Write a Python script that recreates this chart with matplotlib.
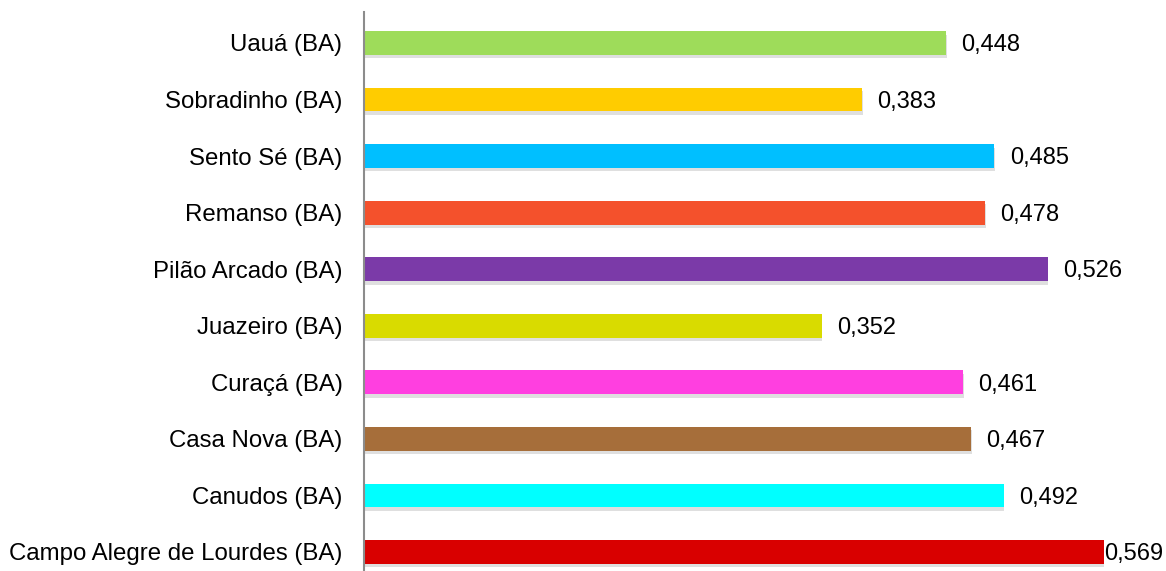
import matplotlib.pyplot as plt
import matplotlib.patheffects as pe

plt.rcParams['font.family'] = ['Liberation Sans', 'DejaVu Sans']

# municipalities, bottom to top
cities = ['Campo Alegre de Lourdes (BA)', 'Canudos (BA)', 'Casa Nova (BA)',
          'Curaçá (BA)', 'Juazeiro (BA)', 'Pilão Arcado (BA)', 'Remanso (BA)',
          'Sento Sé (BA)', 'Sobradinho (BA)', 'Uauá (BA)']
values = [0.569, 0.492, 0.467, 0.461, 0.352, 0.526, 0.478, 0.485, 0.383, 0.448]
colors = ['#d90000', '#00ffff', '#a66e3a', '#ff3fe0', '#d9db00',
          '#7b3aa8', '#f4512c', '#00bfff', '#ffcc00', '#9edc5a']

fig = plt.figure(figsize=(11.66, 5.71), dpi=100)
ax = fig.add_axes([364/1166, 0, 1 - 364/1166, 559/571])

pos = range(len(cities))
bars = ax.barh(pos, values, height=0.42, color=colors, zorder=2)
for b in bars:
    b.set_path_effects([pe.SimplePatchShadow(offset=(0.5, -2.5), shadow_rgbFace='#808080', alpha=0.25),
                        pe.Normal()])

vmax = max(values)
for y, v in zip(pos, values):
    off = 0.5 if v == vmax else 11
    ax.annotate(f'{v:.3f}'.replace('.', ','), (v, y - 0.04), xytext=(off, 0),
                textcoords='offset points', va='center', ha='left', fontsize=17)

ax.set_xlim(0, 0.617)
ax.set_ylim(-0.336, 9.548)
ax.set_yticks(list(pos))
ax.set_yticklabels(cities, fontsize=17.3)
ax.tick_params(axis='y', length=0, pad=15.5)
ax.set_xticks([])
for s in ['top', 'right', 'bottom']:
    ax.spines[s].set_visible(False)
ax.spines['left'].set_color('#8c8c8c')
ax.spines['left'].set_linewidth(1.5)

fig.savefig('out.png', dpi=100)
